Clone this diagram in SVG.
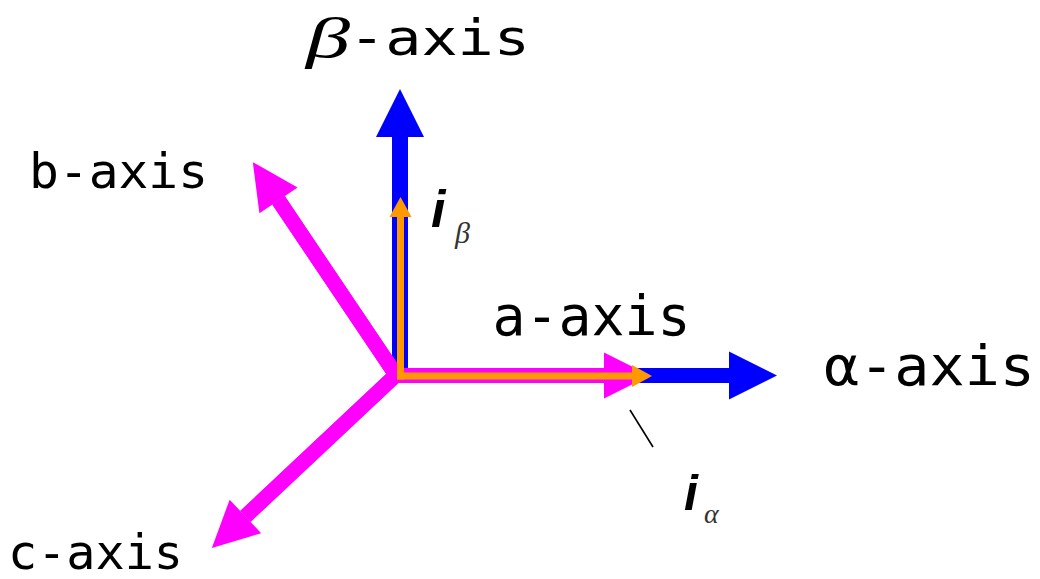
<svg xmlns="http://www.w3.org/2000/svg" width="1040" height="579" viewBox="0 0 1040 579">
<style>
.lbl{font-family:"DejaVu Sans Mono","Liberation Mono",monospace;fill:#000}
.cur{font-family:"Liberation Sans",Arial,sans-serif;font-weight:bold;font-style:italic;fill:#000}
.sub{font-family:"Liberation Serif","Times New Roman",serif;font-style:italic;fill:#333}
.blue{stroke:#0000FF;fill:none}
.mag{stroke:#FF00FF;fill:none}
.org{stroke:#FF9900;fill:none}
</style>
<defs>
<marker id="hb" markerUnits="userSpaceOnUse" markerWidth="48" markerHeight="48" viewBox="0 0 48 48" refX="0" refY="24" orient="auto" overflow="visible"><path d="M0,0 L48,24 L0,48 z" fill="#0000FF"/></marker>
<marker id="hm" markerUnits="userSpaceOnUse" markerWidth="46" markerHeight="46" viewBox="0 0 46 46" refX="0" refY="23" orient="auto" overflow="visible"><path d="M0,0 L46,23 L0,46 z" fill="#FF00FF"/></marker>
<marker id="ho" markerUnits="userSpaceOnUse" markerWidth="20" markerHeight="22" viewBox="0 0 20 22" refX="0" refY="11" orient="auto" overflow="visible"><path d="M0,0 L20,11 L0,22 z" fill="#FF9900"/></marker>
</defs>
<g id="connectors">
<line id="beta-axis-arrow" class="blue" x1="400" y1="375" x2="400" y2="137" stroke-width="16" marker-end="url(#hb)"/>
<line id="alpha-axis-arrow" class="blue" x1="600" y1="375.5" x2="729" y2="375.5" stroke-width="15" marker-end="url(#hb)"/>
<polyline id="bc-join" class="mag" points="278.5,200.3 396,375 245.4,516.4" stroke-width="15" stroke-linejoin="miter"/>
<line id="b-axis-arrow" class="mag" x1="396" y1="375" x2="278.5" y2="200.3" stroke-width="15" marker-end="url(#hm)"/>
<line id="c-axis-arrow" class="mag" x1="396" y1="375" x2="245.4" y2="516.4" stroke-width="15" marker-end="url(#hm)"/>
<line id="a-axis-arrow" class="mag" x1="393" y1="375.5" x2="604" y2="375.5" stroke-width="15" marker-end="url(#hm)"/>
<line id="i-beta-arrow" class="org" x1="400.5" y1="379.5" x2="400.5" y2="217" stroke-width="7" marker-end="url(#ho)"/>
<line id="i-alpha-arrow" class="org" x1="397" y1="376" x2="632" y2="376" stroke-width="7" marker-end="url(#ho)"/>
<line id="i-alpha-leader" x1="630" y1="410" x2="653" y2="447" stroke="#000" stroke-width="1.6"/>
</g>
<g id="label-beta-axis">
<text class="sub" x="306" y="57" font-size="58" style="fill:#000" textLength="44" lengthAdjust="spacingAndGlyphs">β</text>
<text class="lbl" x="349" y="55" font-size="50" textLength="181" lengthAdjust="spacingAndGlyphs">-axis</text>
</g>
<g id="label-b-axis"><text class="lbl" x="29" y="188" font-size="48" textLength="179" lengthAdjust="spacingAndGlyphs">b-axis</text></g>
<g id="label-a-axis"><text class="lbl" x="492.5" y="335" font-size="55" textLength="198" lengthAdjust="spacingAndGlyphs">a-axis</text></g>
<g id="label-alpha-axis"><text class="lbl" x="824" y="385" font-size="55" textLength="211" lengthAdjust="spacingAndGlyphs">α-axis</text></g>
<g id="label-c-axis"><text class="lbl" x="8" y="569" font-size="48" textLength="175" lengthAdjust="spacingAndGlyphs">c-axis</text></g>
<g id="label-i-beta">
<text class="cur" x="431" y="227" font-size="52">i</text>
<text class="sub" x="455" y="243" font-size="30">β</text>
</g>
<g id="label-i-alpha">
<text class="cur" x="684" y="510" font-size="50">i</text>
<text class="sub" x="704" y="523" font-size="28">α</text>
</g>
</svg>
